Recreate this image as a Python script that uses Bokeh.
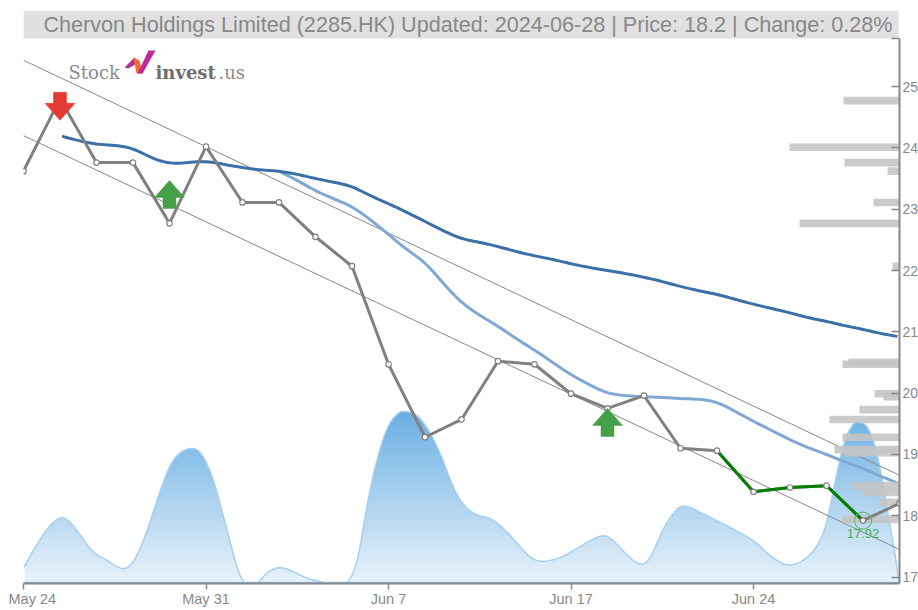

import numpy as np
from bokeh.core.properties import value
from bokeh.embed import file_html
from bokeh.models import FixedTicker, Range1d
from bokeh.plotting import figure
from bokeh.resources import INLINE

title_text = "Chervon Holdings Limited (2285.HK) Updated: 2024-06-28 | Price: 18.2 | Change: 0.28%"
date_ticks = [0, 5, 10, 15, 20]
date_labels = ["May 24", "May 31", "Jun 7", "Jun 17", "Jun 24"]
price_ticks = [17, 18, 19, 20, 21, 22, 23, 24, 25]

price = [23.62, 24.80, 23.76, 23.76, 22.77, 24.02, 23.11, 23.11, 22.55, 22.07, 20.47, 19.28, 19.57,
         20.52, 20.47, 19.99, 19.75, 19.96, 19.10, 19.06, 18.39, 18.46, 18.49, 17.92, 18.20]

ma_long = [24.20, 24.12, 24.06, 24.04, 23.99, 23.84, 23.75, 23.76, 23.78, 23.73, 23.68, 23.64, 23.62,
           23.57, 23.50, 23.44, 23.37, 23.22, 23.09, 22.95, 22.80, 22.65, 22.52, 22.46, 22.39, 22.31,
           22.24, 22.18, 22.11, 22.05, 22.00, 21.95, 21.89, 21.82, 21.74, 21.67, 21.61, 21.53, 21.45,
           21.38, 21.31, 21.23, 21.17, 21.10, 21.04, 20.97, 20.92]
ma_short = [23.62, 23.47, 23.30, 23.17, 23.04, 22.83, 22.59, 22.34, 22.13, 21.79, 21.48, 21.27, 21.09,
            20.89, 20.70, 20.50, 20.30, 20.14, 20.00, 19.96, 19.94, 19.93, 19.91, 19.90, 19.85, 19.70,
            19.54, 19.39, 19.24, 19.11, 19.00, 18.88, 18.77, 18.64, 18.52]

channel_days = [0, 24]
channel_upper = [25.43, 18.66]
channel_lower = [24.20, 17.45]

volume_days = [0, .27, .66, 1.01, 1.29, 1.56, 1.92, 2.30, 2.66, 2.93, 3.21, 3.48, 3.75, 4.03, 4.30, 4.58, 4.85,
               5.21, 5.67, 5.95, 6.22, 6.44, 6.68, 6.99, 7.32, 7.78, 8.14, 8.60, 8.88, 9.15, 9.42, 9.70,
               9.97, 10.25, 10.47, 10.79, 11.10, 11.42, 11.70, 11.97, 12.33, 12.79, 13.15, 13.53, 13.89, 14.25,
               14.71, 15.07, 15.53, 15.89, 16.16, 16.55, 16.90, 17.18, 17.53, 17.92, 18.19, 18.55, 19.10, 20.0,
               20.38, 20.93, 21.48, 21.92, 22.19, 22.47, 22.74, 22.93, 23.15, 23.40, 23.67, 23.89, 23.97, 24.0]
volume = [15, 33, 55, 66, 61, 48, 31, 23, 15, 18, 36, 63, 93, 119, 131, 135, 131,
          103, 40, 6, -3, 1, 11, 16, 13, 5, 2, -5, 1, 23, 80, 126,
          156, 170, 172, 168, 153, 130, 103, 83, 70, 65, 55, 40, 26, 22,
          26, 33, 43, 48, 43, 28, 19, 26, 55, 75, 77, 71, 61, 43,
          30, 18, 26, 50, 93, 140, 160, 161, 155, 128, 73, 26, 6, 0]

dist_price = [24.77, 24.01, 23.76, 23.62, 23.11, 22.77, 22.57, 22.07, 20.50, 20.47, 19.99, 19.94, 19.73,
              19.57, 19.28, 19.08, 19.03, 18.49, 18.38, 18.22, 17.94]
dist_volume = [56, 110, 55, 12, 26, 100, 1, 7, 51, 57, 25, 16, 40, 70, 57, 65, 56, 48, 37, 20, 57]

sell_signal = (1, 24.45)
buy_signals = [(4, 23.47), (16, 19.75)]
low_day, low_price = 23, 17.92

PX_X, PX_Y = 36.5, 61.3
FRAME_W, FRAME_H = 876, 573
y_start = 17 - 6.5 / PX_Y
y_end = y_start + FRAME_H / PX_Y
axis_top = 25.785
GREY = "#888888"
FONT = "Liberation Sans"


def smooth(xs, ys, n=6, soften=0):
    xs, ys = np.asarray(xs, float), np.asarray(ys, float)
    xp = np.r_[xs[0], xs, xs[-1]]
    yp = np.r_[ys[0], ys, ys[-1]]
    ox, oy = [], []
    for i in range(1, len(xp) - 2):
        for t in np.linspace(0, 1, n, endpoint=False):
            a = [(-t**3 + 2*t**2 - t) / 2, (3*t**3 - 5*t**2 + 2) / 2, (-3*t**3 + 4*t**2 + t) / 2, (t**3 - t**2) / 2]
            ox.append(sum(c * xp[i - 1 + k] for k, c in enumerate(a)))
            oy.append(sum(c * yp[i - 1 + k] for k, c in enumerate(a)))
    ox.append(xs[-1]); oy.append(ys[-1])
    ox, oy = np.array(ox), np.array(oy)
    if soften:
        k = np.ones(soften) / soften
        pad = soften // 2
        oy2 = np.convolve(np.r_[[oy[0]] * pad, oy, [oy[-1]] * pad], k, mode="valid")
        ox2 = np.convolve(np.r_[[ox[0]] * pad, ox, [ox[-1]] * pad], k, mode="valid")
        ox, oy = ox2, oy2
    return ox.tolist(), oy.tolist()


def px(x, y):
    return (x - 23) / PX_X, 17 + (576.5 - y) / PX_Y


p = figure(frame_width=FRAME_W, frame_height=FRAME_H, output_backend="svg", toolbar_location=None,
           x_range=Range1d(0, 24), y_range=Range1d(y_start, y_end), y_axis_location="right",
           min_border_left=15, min_border_right=0, min_border_top=2, min_border_bottom=0,
           margin=(8, 0, 0, 8),
           background_fill_color="white", border_fill_color="white", outline_line_color=None)
p.grid.visible = False
p.extra_y_ranges["vol"] = Range1d(0, FRAME_H)
p.extra_x_ranges["dist"] = Range1d(FRAME_W, 0)

# volume area with vertical gradient
vx, vy = smooth(volume_days, volume, soften=5)
top_v = 176
rows = top_v
c0, c1 = np.array([0xea, 0xf3, 0xfb]), np.array([0x68, 0xae, 0xe2])
img = np.zeros((rows, 1), dtype=np.uint32)
for r in range(rows):
    c = (c0 + (c1 - c0) * r / (rows - 1)).astype(int)
    img[r, 0] = int(c[0]) | int(c[1]) << 8 | int(c[2]) << 16 | 255 << 24
p.image_rgba(image=[img], x=[0.03], y=[0], dw=[23.94], dh=[top_v], y_range_name="vol")
mask_x = [-0.2] + vx + [24.2]
mask_y = [vy[0]] + vy + [vy[-1]]
p.varea(x=mask_x, y1=mask_y, y2=[top_v + 2] * len(mask_x), fill_color="white", y_range_name="vol")
p.line(vx, vy, line_color="#a6d0ef", line_width=1.5, y_range_name="vol")
p.line([0, 24], [1, 1], line_color="#8fc3ea", line_width=1.5, y_range_name="vol")

# channel
p.line(channel_days, channel_upper, line_color=GREY, line_width=1)
p.line(channel_days, channel_lower, line_color=GREY, line_width=1)

# moving averages
short_days = [7 + i * 0.5 for i in range(len(ma_short))]
long_days = [1 + i * 0.5 for i in range(len(ma_long))]
p.line(*smooth(short_days, ma_short, soften=7), line_color="#7fa9d4", line_width=3)
p.line(*smooth(long_days, ma_long, soften=7), line_color="#3a6fa8", line_width=3)

# price distribution
p.hbar(y=dist_price, left=0, right=dist_volume, height=0.125, fill_color="#c4c4c4", fill_alpha=0.88,
       line_color=None, x_range_name="dist")

# price
days = list(range(len(price)))
p.line(days, price, line_color="#808080", line_width=3)
p.line(days[19:24], price[19:24], line_color="#008000", line_width=3)
p.scatter(days, price, size=5.5, marker="circle", fill_color="white", line_color="#808080", line_width=1.2)
p.scatter([low_day], [low_price], size=17, marker="circle", fill_color=None, line_color="#66bb6a", line_width=1.2)
p.text([low_day], [low_price - 0.21], text=["17.92"], text_font=value(FONT), text_font_size="13px",
       text_color="#4caf50", text_align="center", text_baseline="middle")


def arrow(day, level, up, color):
    s = 1 if up else -1
    off_x = [0, 15, 6.5, 6.5, -6.5, -6.5, -15]
    off_y = [0, 17, 17, 28, 28, 17, 17]
    p.patch([day + o / PX_X for o in off_x], [level - s * o / PX_Y for o in off_y],
            fill_color=color, line_color=color, line_width=0.5)


arrow(sell_signal[0], sell_signal[1], False, "#e53935")
for d, lv in buy_signals:
    arrow(d, lv, True, "#43a047")

# title band
bl, bb = px(23, 38)
br, bt = px(898, 10)
p.quad(left=[bl], right=[br], bottom=[bb], top=[bt], fill_color="#e0e0e0", line_color=None)
tx, ty = px(892, 24)
p.text([tx], [ty], text=[title_text], text_font=value(FONT), text_font_size="21.6px", text_color=GREY,
       text_align="right", text_baseline="middle")

# logo
for poly, col in [([(124, 67), (134, 57), (138, 62), (128, 68)], "#b5309a"),
                  ([(133, 57), (139, 60), (142, 73), (136, 73)], "#f26b2a"),
                  ([(137, 73), (148, 50), (155, 50), (142, 73)], "#c2289a")]:
    xy = [px(*q) for q in poly]
    p.patch([a for a, _ in xy], [b for _, b in xy], fill_color=col, line_color=None)
for s, x0, style, col in [("Stock", 68, "normal", "#8a8a8a"), ("invest", 155, "bold", "#6e6e6e"), (".us", 218, "normal", "#8a8a8a")]:
    lx, ly = px(x0, 71.5)
    p.text([lx], [ly], text=[s], text_font=value("DejaVu Serif"), text_font_size="18px", text_font_style=style,
           text_color=col, text_align="left", text_baseline="alphabetic")

xa = p.xaxis[0]
xa.ticker = FixedTicker(ticks=date_ticks)
xa.major_label_overrides = dict(zip(date_ticks, date_labels))
xa.axis_line_color = GREY
xa.axis_line_width = 2
xa.major_tick_line_color = GREY
xa.major_tick_line_width = 1.5
xa.major_tick_in = 0
xa.major_tick_out = 6
xa.minor_tick_line_color = None
xa.major_label_text_color = GREY
xa.major_label_text_font = FONT
xa.major_label_text_font_size = "14.5px"
xa.major_label_standoff = 1

ya = p.yaxis[0]
ya.ticker = FixedTicker(ticks=price_ticks + [axis_top])
ya.major_label_overrides = {axis_top: " "}
ya.bounds = (y_start, axis_top)
ya.axis_line_color = GREY
ya.axis_line_width = 2
ya.major_tick_line_color = GREY
ya.major_tick_line_width = 1.5
ya.major_tick_in = 8
ya.major_tick_out = 0
ya.minor_tick_line_color = None
ya.major_label_text_color = GREY
ya.major_label_text_font = FONT
ya.major_label_text_font_size = "14px"
ya.major_label_standoff = 3

open("out.html", "w").write(file_html(p, INLINE))
